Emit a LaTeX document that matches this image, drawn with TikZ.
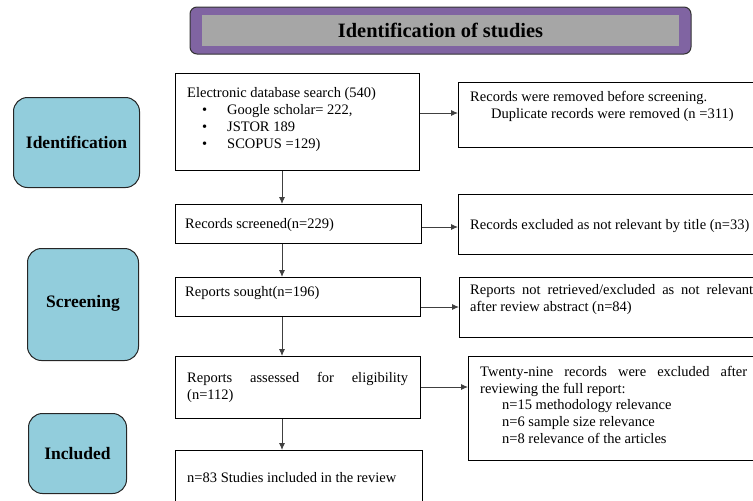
\documentclass[tikz,border=0pt]{standalone}
\usepackage{fontspec}
\setmainfont{Liberation Serif}
\usetikzlibrary{positioning,arrows.meta}
\definecolor{titlepurple}{HTML}{8064A2}
\definecolor{titlegray}{HTML}{A6A6A6}
\definecolor{stageblue}{HTML}{92CDDC}
\newcommand{\bul}[1]{\makebox[40pt][l]{\hspace{15pt}\textbullet}#1}

\begin{document}
\begin{tikzpicture}[x=1pt,y=-1pt,
  box/.style={draw, line width=1.2pt, anchor=north west, inner sep=0},
  stage/.style={draw=black!85, line width=1pt, fill=stageblue, rounded corners=14pt, anchor=north west, font=\fontsize{17.5}{20}\selectfont\bfseries},
  txt/.style={anchor=north west, align=left, inner sep=0, font=\fontsize{14.5}{17}\selectfont},
  arr/.style={-{Latex[length=7pt,width=6pt]}, black!75, line width=0.9pt}]
\useasboundingbox (0,0) rectangle (753,501);

% title bar
\node[draw=black!80, line width=1pt, fill=titlepurple, rounded corners=7pt, minimum width=501, minimum height=47, inner sep=0] (title) at (440.5,30.5) {};
\node[fill=titlegray, minimum width=477, minimum height=31, inner sep=0, font=\fontsize{20.4}{24}\selectfont\bfseries] (titletext) at (title.center) {Identification of studies};

% stages on the left
\node[stage, minimum width=126, minimum height=90] (ident) at (13,97) {Identification};
\node[stage, minimum width=111, minimum height=112] (screen) at (27,248) {\raisebox{7pt}{Screening}};
\node[stage, minimum width=98, minimum height=80] (incl) at (28,413) {Included};

% main column
\node[box, minimum width=244, minimum height=97] (b1) at (175,73) {};
\node[box, minimum width=246, minimum height=39] (b2) at (175,204) {};
\node[box, minimum width=245, minimum height=39] (b3) at (175,277) {};
\node[box, minimum width=245, minimum height=62] (b4) at (175,356) {};
\node[box, minimum width=247, minimum height=80] (b5) at (175,450) {};

% excluded column
\node[box, minimum width=310, minimum height=65] (r1) at (458,82) {};
\node[box, minimum width=310, minimum height=60] (r2) at (458,194) {};
\node[box, minimum width=310, minimum height=60] (r3) at (459,277) {};
\node[box, minimum width=300, minimum height=104] (r4) at (468,356) {};

% texts
\node[txt] (b1t) at (187,87) {Electronic database search (540)\\
  \bul{Google scholar= 222,}\\
  \bul{JSTOR 189}\\
  \bul{SCOPUS =129)}};
\node[txt, anchor=west] (b2t) at (185,225) {Records screened(n=229)};
\node[txt, anchor=west] (b3t) at (185,293) {Reports sought(n=196)};
\node[txt] (b4t) at (187,372) {\makebox[221pt][s]{Reports assessed for eligibility}\\(n=112)};
\node[txt, anchor=west] (b5t) at (187,478) {n=83 Studies included in the review};
\node[txt] (r1t) at (470,91) {Records were removed before screening.\\
  \hspace*{21pt}Duplicate records were removed (n =311)};
\node[txt, anchor=west] (r2t) at (470,226) {Records excluded as not relevant by title (n=33)};
\node[txt] (r3t) at (470,284) {\makebox[283pt][s]{Reports not retrieved/excluded as not relevant}\\
  after review abstract (n=84)};
\node[txt, font=\fontsize{14.5}{16.7}\selectfont] (r4t) at (480,366) {\makebox[267pt][s]{Twenty-nine records were excluded after}\\
  reviewing the full report:\\
  \hspace*{22pt}n=15 methodology relevance\\
  \hspace*{22pt}n=6 sample size relevance\\
  \hspace*{22pt}n=8 relevance of the articles};

% arrows
\coordinate (ax) at (282,0); % down arrows
\coordinate (row1) at (0,113);
\coordinate (row2) at (0,227);
\coordinate (row3) at (0,307);
\coordinate (row4) at (0,387);
\draw[arr] (b1.south -| ax) -- (b2.north -| ax);
\draw[arr] (b2.south -| ax) -- (b3.north -| ax);
\draw[arr] (b3.south -| ax) -- (b4.north -| ax);
\draw[arr] (b4.south -| ax) -- (b5.north -| ax);
\draw[arr] (b1.east |- row1) -- (r1.west |- row1);
\draw[arr] (b2.east |- row2) -- (r2.west |- row2);
\draw[arr] (b3.east |- row3) -- (r3.west |- row3);
\draw[arr] (b4.east |- row4) -- (r4.west |- row4);
\end{tikzpicture}
\end{document}
